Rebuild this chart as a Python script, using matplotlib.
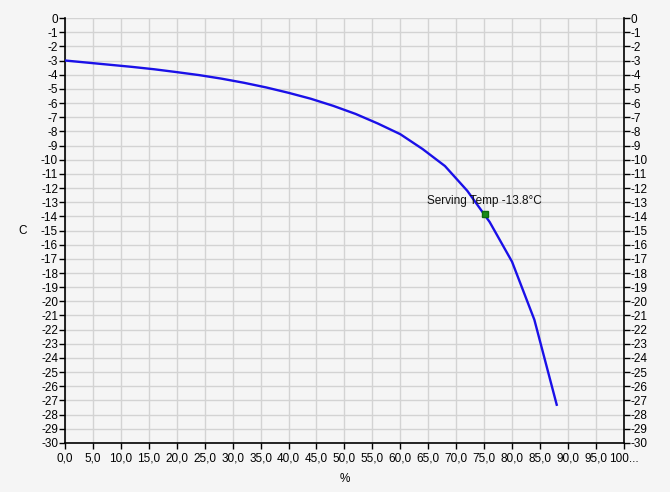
import matplotlib

matplotlib.use("Agg")
import matplotlib.pyplot as plt

# freezing curve: % frozen vs temperature (C)
pct = [0, 4, 8, 12, 16, 20, 24, 28, 32, 36, 40, 44, 48, 52, 56, 60, 64, 68, 72, 76, 80, 84, 88]
temp = [-3.0, -3.15, -3.3, -3.45, -3.62, -3.82, -4.03, -4.28, -4.57, -4.9, -5.28, -5.7,
        -6.2, -6.77, -7.45, -8.2, -9.25, -10.45, -12.2, -14.4, -17.2, -21.3, -27.3]

serving_pct = 75.1
serving_temp = -13.8
serving_label = "Serving Temp -13.8°C"

x_ticks = [i * 5 for i in range(21)]
x_labels = [f"{v:.1f}".replace(".", ",") for v in x_ticks[:-1]] + ["100..."]
y_ticks = list(range(0, -31, -1))
y_labels = [str(v) for v in y_ticks]

plt.rcParams["font.family"] = ["Liberation Sans", "DejaVu Sans"]
plt.rcParams["axes.unicode_minus"] = False

fig = plt.figure(figsize=(6.7, 4.92), dpi=100, facecolor="#f5f5f5")
ax = fig.add_axes([0.097, 0.0996, 0.834, 0.8638])
ax.set_facecolor("#f5f5f5")

ax.plot(pct, temp, color="#1a10e8", lw=1.7, zorder=3)
ax.plot([serving_pct], [serving_temp], marker="s", ms=4.5, color="#1a8a1a",
        mec="#0d6b0d", ls="none", zorder=4)
ax.annotate(serving_label, (serving_pct, serving_temp), xytext=(0, 5),
            textcoords="offset points", ha="center", va="bottom", fontsize=8.5,
            color="#111111", zorder=5)

ax.set_xlim(0, 100)
ax.set_ylim(-30, 0)
ax.set_xticks(x_ticks)
ax.set_xticklabels(x_labels)
ax.set_yticks(y_ticks)
ax.set_yticklabels(y_labels)
ax.grid(True, color="#d3d3d3", lw=1)
ax.set_axisbelow(True)

for side in ("left", "bottom", "right"):
    ax.spines[side].set_color("black")
    ax.spines[side].set_linewidth(1.2)
ax.spines["top"].set_visible(False)

ax.tick_params(axis="both", direction="out", length=4, width=1, labelsize=8.5,
               colors="black", pad=1)
ax.tick_params(axis="x", pad=3)
ax.tick_params(axis="y", right=True, labelright=True)

ax.set_xlabel("%", fontsize=8.5, labelpad=6)
ax.set_ylabel("C", fontsize=8.5, rotation=0, labelpad=13, va="center")

fig.savefig("out.png", dpi=100, facecolor=fig.get_facecolor())
